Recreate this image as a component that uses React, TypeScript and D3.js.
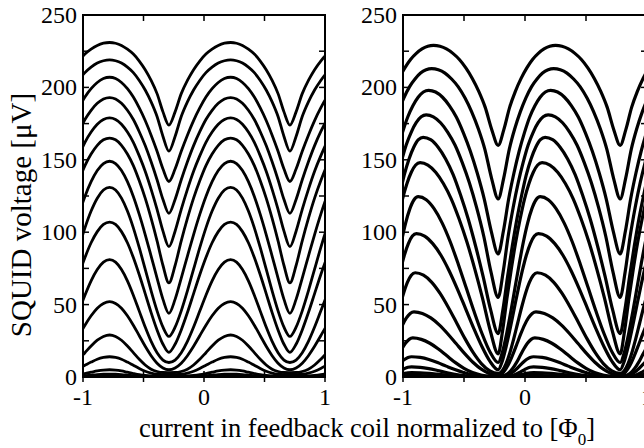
import React from "react";
import * as d3 from "d3";

// ---------- data ----------
// Each curve: voltage values [µV] from the flux minimum (index 0) to the flux maximum (index 10),
// sampled at 11 equal steps along the rising half; the falling half mirrors these samples.
const leftMinX = -0.29; // x position of the voltage minimum (periodic, period 1 Φ0)
const leftPeakPhase = [0.51, 0.51, 0.51, 0.51, 0.51, 0.51, 0.51, 0.51, 0.51, 0.51, 0.51, 0.51, 0.51, 0.51, 0.51, 0.51];
const leftCurves: number[][] = [
  [174, 183.1, 195.7, 204.8, 212.2, 218.2, 223.0, 226.4, 229.0, 230.5, 231],
  [156, 166.1, 179.9, 190.0, 198.2, 204.8, 210.2, 214.0, 216.8, 218.4, 219],
  [135, 143.6, 155.9, 167.0, 177.1, 185.8, 193.3, 199.1, 203.4, 206.1, 207],
  [113, 122.6, 136.2, 148.6, 159.8, 169.4, 177.8, 184.2, 189.0, 192.0, 193],
  [90, 100.7, 115.8, 129.6, 142.1, 152.7, 162.1, 169.2, 174.6, 177.9, 179],
  [65, 77, 94, 109.5, 123.5, 135.5, 146, 154, 160, 163.8, 165],
  [44, 53.6, 68.3, 83.5, 98.4, 112.3, 124.7, 134.9, 142.6, 147.4, 149],
  [28, 34.4, 45.7, 59.5, 74.5, 89.3, 103.0, 114.6, 123.5, 129.1, 131],
  [17, 22.6, 32.5, 44.5, 57.6, 70.6, 82.5, 92.7, 100.4, 105.4, 107],
  [10, 11.7, 16.8, 24.6, 34.5, 45.5, 56.5, 66.4, 74.2, 79.3, 81],
  [5, 6.2, 9.5, 14.7, 21.2, 28.5, 35.8, 42.3, 47.5, 50.8, 52],
  [3, 3.1, 3.8, 5.4, 8.3, 12.2, 16.8, 21.4, 25.4, 28.0, 29],
  [1.5, 1.55, 1.9, 2.7, 4.0, 5.9, 8.1, 10.3, 12.3, 13.5, 14],
  [0.5, 0.5, 0.54, 0.69, 1.04, 1.6, 2.4, 3.3, 4.2, 4.8, 5],
  [0.2, 0.2, 0.22, 0.28, 0.41, 0.65, 0.97, 1.33, 1.67, 1.91, 2],
  [0.1, 0.1, 0.1, 0.12, 0.17, 0.25, 0.35, 0.5, 0.62, 0.73, 0.8],
];

const rightMinX = -0.22;
const rightPeakPhase = [0.47, 0.455, 0.43, 0.41, 0.385, 0.36, 0.345, 0.33, 0.32, 0.31, 0.3, 0.29, 0.29, 0.29, 0.29, 0.29];
const rightCurves: number[][] = [
  [160, 171.0, 186.2, 197.3, 206.2, 213.5, 219.3, 223.5, 226.6, 228.4, 229],
  [123, 137.4, 157.2, 171.6, 183.3, 192.8, 200.4, 205.8, 209.9, 212.2, 213],
  [85, 100.8, 122.9, 140.7, 155.9, 168.6, 179.4, 187.3, 193.2, 196.8, 198],
  [55, 72.6, 97.2, 117.1, 134.1, 148.2, 160.2, 169.0, 175.6, 179.7, 181],
  [30, 46.3, 69.3, 90.3, 109.3, 125.5, 139.8, 150.6, 158.7, 163.9, 165.5],
  [16, 31.8, 54.3, 74.7, 93.2, 109.1, 122.9, 133.5, 141.4, 146.4, 148],
  [10, 17.1, 29.7, 45.0, 61.6, 78.1, 93.4, 106.3, 116.1, 122.4, 124.5],
  [5, 10.8, 21.2, 33.8, 47.4, 60.9, 73.4, 84.1, 92.1, 97.3, 99],
  [2.5, 4.2, 9.1, 16.8, 26.5, 37.3, 48.0, 57.7, 65.4, 70.3, 72],
  [1.2, 2.3, 5.4, 10.2, 16.3, 23.1, 29.9, 36.0, 40.8, 43.9, 45],
  [0.6, 0.7, 1.4, 3.1, 6.0, 9.9, 14.6, 19.3, 23.3, 26.0, 27],
  [0.3, 0.35, 0.7, 1.6, 3.1, 5.1, 7.5, 10.0, 12.1, 13.5, 14],
  [0.2, 0.2, 0.26, 0.49, 1.0, 1.9, 3.1, 4.5, 5.8, 6.7, 7],
  [0.1, 0.1, 0.13, 0.22, 0.45, 0.83, 1.34, 1.93, 2.47, 2.86, 3],
  [0, 0, 0.01, 0.04, 0.12, 0.25, 0.43, 0.63, 0.82, 0.95, 1],
  [0, 0, 0, 0.02, 0.06, 0.12, 0.21, 0.31, 0.41, 0.48, 0.5],
];

const xTicks = [-1, -0.5, 0, 0.5, 1];
const xTickLabels = [-1, 0, 1];
const yTicks = [0, 25, 50, 75, 100, 125, 150, 175, 200, 225, 250];
const yTickLabels = [0, 50, 100, 150, 200, 250];

const yTitle = "SQUID voltage [\u03bcV]";
const xTitle = "current in feedback coil normalized to [\u03a6";

// ---------- layout ----------
const W = 644;
const H = 448;
const top = 15;
const bottom = 377;
const panels = [
  { id: "L", x0: 83, x1: 325, minX: leftMinX, phase: leftPeakPhase, curves: leftCurves, sw: 2.8 },
  { id: "R", x0: 403, x1: 647, minX: rightMinX, phase: rightPeakPhase, curves: rightCurves, sw: 3.2 },
];
const font = "'Liberation Serif', 'Times New Roman', serif";

function buildPoints(prof: number[], p: number, minX: number): [number, number][] {
  const pts: [number, number][] = [];
  const n = prof.length - 1;
  for (let k = -2; k <= 2; k++) {
    const base = minX + k;
    for (let i = 0; i <= n; i++) pts.push([base + (p * i) / n, prof[i]]);
    for (let i = n - 1; i >= 1; i--) pts.push([base + p + ((1 - p) * (n - i)) / n, prof[i]]);
  }
  return pts.filter((d) => d[0] >= -1.3 && d[0] <= 1.3);
}

export default function App() {
  const y = d3.scaleLinear().domain([0, 250]).range([bottom, top]);
  return (
    <svg width={W} height={H} style={{ position: "absolute", left: 0, top: 0, background: "#fff" }}>
      <defs>
        {panels.map((pn) => (
          <clipPath id={"clip" + pn.id} key={pn.id}>
            <rect x={pn.x0} y={top} width={pn.x1 - pn.x0} height={bottom - top} />
          </clipPath>
        ))}
      </defs>
      {panels.map((pn) => {
        const x = d3.scaleLinear().domain([-1, 1]).range([pn.x0, pn.x1]);
        const line = d3
          .line<[number, number]>()
          .x((d) => x(d[0]))
          .y((d) => y(d[1]))
          .curve(d3.curveMonotoneX);
        return (
          <g key={pn.id}>
            <g clipPath={`url(#clip${pn.id})`}>
              {pn.curves.map((c, i) => (
                <path
                  key={i}
                  d={line(buildPoints(c, pn.phase[i], pn.minX)) || ""}
                  fill="none"
                  stroke="#000"
                  strokeWidth={pn.sw}
                  strokeLinejoin="round"
                />
              ))}
            </g>
            <rect x={pn.x0} y={top} width={pn.x1 - pn.x0} height={bottom - top} fill="none" stroke="#000" strokeWidth={2} />
            {xTicks.map((t) => (
              <g key={"xt" + t}>
                <line x1={x(t)} x2={x(t)} y1={bottom + 5} y2={bottom - 6} stroke="#000" strokeWidth={1.5} />
                <line x1={x(t)} x2={x(t)} y1={top} y2={top + 6} stroke="#000" strokeWidth={1.5} />
              </g>
            ))}
            {yTicks.map((t) => (
              <g key={"yt" + t}>
                <line x1={pn.x0} x2={pn.x0 + 6} y1={y(t)} y2={y(t)} stroke="#000" strokeWidth={1.5} />
                <line x1={pn.x1 - 6} x2={pn.x1} y1={y(t)} y2={y(t)} stroke="#000" strokeWidth={1.5} />
              </g>
            ))}
            {xTickLabels.map((t) => (
              <text key={"xl" + t} x={x(t)} y={bottom + 28} textAnchor="middle" fontFamily={font} fontSize={24}>
                {t}
              </text>
            ))}
            {yTickLabels.map((t) => (
              <text key={"yl" + t} x={pn.x0 - 6} y={y(t) + 8} textAnchor="end" fontFamily={font} fontSize={24}>
                {t}
              </text>
            ))}
          </g>
        );
      })}
      <text
        transform="translate(31,215) rotate(-90)"
        textAnchor="middle"
        fontFamily={font}
        fontSize={29}
      >
        {yTitle}
      </text>
      <text x={367} y={437} textAnchor="middle" fontFamily={font} fontSize={26.5}>
        {xTitle}
        <tspan fontSize={17} dy={8}>0</tspan>
        <tspan dy={-8}>]</tspan>
      </text>
    </svg>
  );
}
